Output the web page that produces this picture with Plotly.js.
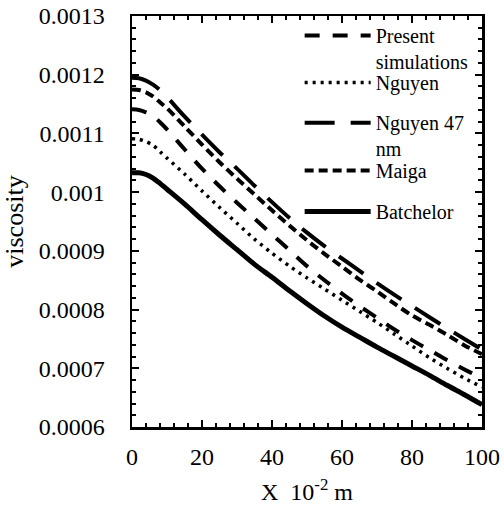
<!DOCTYPE html>
<html>
<head>
<meta charset="utf-8">
<script src="https://cdn.plot.ly/plotly-3.0.1.min.js"></script>
<style>html,body{margin:0;padding:0;background:#fff;}</style>
</head>
<body>
<div id="chart" style="width:504px;height:508px;"></div>
<script>
// X positions (10^-2 m)
var xPos = [0, 2, 4, 6, 8, 10, 15, 20, 25, 30, 35, 40, 45, 50, 55, 60, 65, 70, 75, 80, 85, 90, 95, 100];

// Series values (viscosity)
var presentSim = [0.001141, 0.00114, 0.001136, 0.00113, 0.001119, 0.001107, 0.001073, 0.00104, 0.00101, 0.000982, 0.000955, 0.000928, 0.000901, 0.000874, 0.00085, 0.000827, 0.000806, 0.000786, 0.000766, 0.000748, 0.000731, 0.000714, 0.000698, 0.000683];
var nguyen = [0.001091, 0.00109, 0.001086, 0.00108, 0.001069, 0.001058, 0.001031, 0.001002, 0.000974, 0.000947, 0.00092, 0.000896, 0.000874, 0.000854, 0.000835, 0.000816, 0.000797, 0.000778, 0.000758, 0.000738, 0.000718, 0.0007, 0.000683, 0.000668];
var nguyen47 = [0.001195, 0.001194, 0.00119, 0.001183, 0.001174, 0.001162, 0.001129, 0.001098, 0.001068, 0.00104, 0.001011, 0.000983, 0.000956, 0.000931, 0.000908, 0.000887, 0.000866, 0.000845, 0.000825, 0.000806, 0.000787, 0.000768, 0.00075, 0.000732];
var maiga = [0.001175, 0.001174, 0.00117, 0.001163, 0.001153, 0.001143, 0.001112, 0.001081, 0.001051, 0.001023, 0.000996, 0.000969, 0.000943, 0.000918, 0.000895, 0.000873, 0.000851, 0.000831, 0.00081, 0.00079, 0.000774, 0.000757, 0.000739, 0.000724];
var batchelor = [0.001033, 0.001033, 0.00103, 0.001024, 0.001015, 0.001005, 0.00098, 0.000953, 0.000927, 0.000902, 0.000877, 0.000855, 0.000832, 0.00081, 0.000789, 0.00077, 0.000753, 0.000736, 0.00072, 0.000704, 0.000688, 0.000671, 0.000655, 0.000638];

// Names
var seriesNames = ['Present<br>simulations', 'Nguyen', 'Nguyen 47<br>nm', 'Maiga', 'Batchelor'];

// Tick labels
var yTickVals = [0.0006, 0.0007, 0.0008, 0.0009, 0.001, 0.0011, 0.0012, 0.0013];
var yTickText = ['0.0006', '0.0007', '0.0008', '0.0009', '0.001', '0.0011', '0.0012', '0.0013'];
var xTickVals = [0, 20, 40, 60, 80, 100];
var xTickText = ['0', '20', '40', '60', '80', '100'];

var FONT = '"Liberation Serif", "Times New Roman", Times, serif';

function tr(y, name, dash, width, legendId) {
  return {
    x: xPos, y: y, name: name, mode: 'lines', type: 'scatter',
    line: {color: '#000', width: width, dash: dash, shape: 'spline', smoothing: 0.8},
    legend: legendId, showlegend: true, hoverinfo: 'skip'
  };
}

var data = [
  tr(presentSim, seriesNames[0], '15px,13px', 4, 'legend'),
  tr(nguyen, seriesNames[1], '3px,5px', 3.5, 'legend2'),
  tr(nguyen47, seriesNames[2], '30px,16px', 4, 'legend3'),
  tr(maiga, seriesNames[3], '9px,5px', 4, 'legend4'),
  tr(batchelor, seriesNames[4], 'solid', 5, 'legend5')
];

function leg(yPaper) {
  return {
    x: 0.479, y: yPaper, xanchor: 'left', yanchor: 'top',
    bgcolor: 'rgba(0,0,0,0)', borderwidth: 0,
    font: {family: FONT, size: 20, color: '#000'},
    itemwidth: 66, valign: 'top', tracegroupgap: 0
  };
}

var layout = {
  width: 504, height: 508,
  margin: {l: 132, r: 22, t: 16, b: 81, pad: 0},
  paper_bgcolor: '#fff', plot_bgcolor: '#fff',
  font: {family: FONT, color: '#000', size: 24},
  showlegend: true,
  legend: leg(1.0),
  legend2: leg(0.8856),
  legend3: leg(0.788),
  legend4: leg(0.6715),
  legend5: leg(0.572),
  xaxis: {
    range: [0, 100], tickmode: 'array', tickvals: xTickVals, ticktext: xTickText,
    ticks: 'inside', ticklen: 7, tickwidth: 2, tickcolor: '#000',
    showline: true, linewidth: 2.5, linecolor: '#000', mirror: 'allticks',
    showgrid: false, zeroline: false,
    tickfont: {family: FONT, size: 24, color: '#000'},
    ticklabelstandoff: 7,
    minor: {tickmode: 'linear', tick0: 0, dtick: 4, ticks: 'inside', ticklen: 4, tickwidth: 2, tickcolor: '#000', showgrid: false},
    title: {text: 'X  10<sup>-2</sup> m', font: {family: FONT, size: 24, color: '#000'}, standoff: 14}
  },
  yaxis: {
    range: [0.0006, 0.0013], tickmode: 'array', tickvals: yTickVals, ticktext: yTickText,
    ticks: 'inside', ticklen: 7, tickwidth: 2, tickcolor: '#000',
    showline: true, linewidth: 2.5, linecolor: '#000', mirror: 'allticks',
    showgrid: false, zeroline: false,
    tickfont: {family: FONT, size: 24, color: '#000'},
    ticklabelstandoff: 20,
    minor: {tickmode: 'linear', tick0: 0.0006, dtick: 0.00002, ticks: 'inside', ticklen: 4, tickwidth: 2, tickcolor: '#000', showgrid: false},
    title: {text: 'viscosity', font: {family: FONT, size: 26, color: '#000'}, standoff: 8}
  }
};

Plotly.newPlot('chart', data, layout, {staticPlot: true, displayModeBar: false});
</script>
</body>
</html>
